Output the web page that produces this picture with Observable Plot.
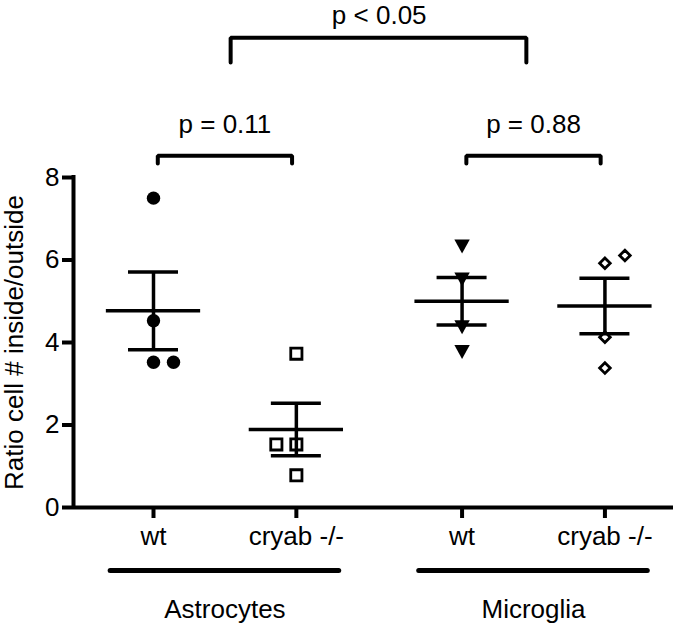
<!DOCTYPE html>
<html><head><meta charset="utf-8">
<script src="https://cdn.jsdelivr.net/npm/d3@7"></script>
<script src="https://cdn.jsdelivr.net/npm/@observablehq/plot@0.6"></script>
<style>
html,body{margin:0;padding:0;background:#fff;}
</style>
</head><body><div id="chart"></div>
<script>
// ---------------- data ----------------
const groups = ["Astrocytes", "Microglia"];
const genotypes = ["wt", "cryab -/-"];
const astrocytesWt = [7.5, 4.53, 3.52, 3.52];
const astrocytesKo = [3.73, 1.53, 1.53, 0.78];
const microgliaWt = [6.33, 5.53, 4.37, 3.77];
const microgliaKo = [5.92, 6.11, 4.13, 3.38];
const yTicks = [0, 2, 4, 6, 8];
const yLabel = "Ratio cell # inside/outside";
const withinLabels = ["p = 0.11", "p = 0.88"];   // wt vs cryab -/- within each group
const betweenLabel = "p < 0.05";                   // Astrocytes vs Microglia

// ---------------- layout / style ----------------
const groupStep = 2.16;           // distance between groups, in column units
const xDomain = [-0.56, 3.64];
const spread = 0.14;              // horizontal offset for overlapping symbols
const meanHalf = 0.33, capHalf = 0.175;
const font = "'Liberation Sans', Arial, Helvetica, sans-serif";

const colX = (g, t) => groups.indexOf(g) * groupStep + genotypes.indexOf(t);
const groupMid = g => groups.indexOf(g) * groupStep + 0.5;

function sym(draw) { return {draw(ctx, size) { draw(ctx, Math.sqrt(size / Math.PI)); }}; }
const symCircle = sym((c, r) => { c.moveTo(r, 0); c.arc(0, 0, r, 0, 2 * Math.PI); });
const symSquare = sym((c, r) => { c.rect(-r, -r, 2 * r, 2 * r); });
const symTriDown = sym((c, r) => { c.moveTo(-1.1 * r, -r); c.lineTo(1.1 * r, -r); c.lineTo(0, r); c.closePath(); });
const symDiamond = sym((c, r) => { c.moveTo(0, -r); c.lineTo(r, 0); c.lineTo(0, r); c.lineTo(-r, 0); c.closePath(); });

const columns = [
  {group: "Astrocytes", genotype: "wt", values: astrocytesWt, symbol: symCircle, r: 6.7, filled: true, side: 1},
  {group: "Astrocytes", genotype: "cryab -/-", values: astrocytesKo, symbol: symSquare, r: 5.6, filled: false, side: -1},
  {group: "Microglia", genotype: "wt", values: microgliaWt, symbol: symTriDown, r: 7, filled: true, side: 1},
  {group: "Microglia", genotype: "cryab -/-", values: microgliaKo, symbol: symDiamond, r: 5.3, filled: false, side: 1}
];
columns.forEach(c => {
  c.x = colX(c.group, c.genotype);
  c.mean = d3.mean(c.values);
  c.sem = d3.deviation(c.values) / Math.sqrt(c.values.length);
  // spread symbols that would overlap
  const placed = [];
  c.points = c.values.map(v => {
    const clash = placed.some(p => p.slot === 0 && Math.abs(p.v - v) < 0.3);
    const slot = clash ? c.side : 0;
    placed.push({v, slot});
    return {value: v, x: c.x + slot * spread};
  });
});

const tickLabel = new Map(columns.map(c => [c.x, c.genotype]));

// brackets
const yBr = {low: 8.34, high: 8.53, topLow: 10.79, topHigh: 11.39, text: 9.27, topText: 11.93};
const brackets = [];
groups.forEach((g, i) => {
  const x1 = colX(g, genotypes[0]) + 0.03, x2 = colX(g, genotypes[1]) - 0.03;
  [[x1, yBr.low], [x1, yBr.high], [x2, yBr.high], [x2, yBr.low]].forEach(([x, y]) => brackets.push({id: g, x, y}));
});
{
  const x1 = groupMid(groups[0]) + 0.04, x2 = groupMid(groups[1]) - 0.05;
  [[x1, yBr.topLow], [x1, yBr.topHigh], [x2, yBr.topHigh], [x2, yBr.topLow]].forEach(([x, y]) => brackets.push({id: "between", x, y}));
}
const pTexts = groups.map((g, i) => ({x: groupMid(g), y: yBr.text, text: withinLabels[i]}));
pTexts.push({x: (groupMid(groups[0]) + groupMid(groups[1])) / 2, y: yBr.topText, text: betweenLabel});

const groupLineY = -1.527, groupTextY = -2.465;

const chart = Plot.plot({
  width: 677, height: 625,
  marginLeft: 73, marginRight: 4, marginTop: 177, marginBottom: 118,
  x: {domain: xDomain},
  y: {domain: [0, 8]},
  style: {fontFamily: font, fontSize: "26px", color: "#000", background: "#fff", overflow: "visible"},
  marks: [
    // axes
    Plot.axisY(yTicks, {tickSize: 11, tickPadding: 3, fontSize: 26, strokeWidth: 4, label: null, tickFormat: d => String(d)}),
    Plot.axisX(columns.map(c => c.x), {tickSize: 11, tickPadding: 8, fontSize: 26, strokeWidth: 4, label: null, tickFormat: x => tickLabel.get(x)}),
    Plot.ruleX([xDomain[0]], {y1: 0, y2: 8, strokeWidth: 4, strokeLinecap: "square"}),
    Plot.ruleY([0], {x1: xDomain[0], x2: xDomain[1], strokeWidth: 4}),
    Plot.text([yLabel], {text: d => d, frameAnchor: "left", textAnchor: "middle", rotate: -90, dx: -59, fontSize: 26, fill: "#000"}),
    // mean and SEM
    Plot.ruleY(columns, {y: "mean", x1: c => c.x - meanHalf, x2: c => c.x + meanHalf, strokeWidth: 3.5}),
    Plot.ruleX(columns, {x: "x", y1: c => c.mean - c.sem, y2: c => c.mean + c.sem, strokeWidth: 3.5}),
    Plot.ruleY(columns, {y: c => c.mean + c.sem, x1: c => c.x - capHalf, x2: c => c.x + capHalf, strokeWidth: 3.5}),
    Plot.ruleY(columns, {y: c => c.mean - c.sem, x1: c => c.x - capHalf, x2: c => c.x + capHalf, strokeWidth: 3.5}),
    // points
    ...columns.map(c => Plot.dot(c.points, {
      x: "x", y: "value", r: c.r, symbol: c.symbol,
      fill: c.filled ? "#000" : "none", stroke: "#000", strokeWidth: c.filled ? 0 : 2.8
    })),
    // brackets and p values
    Plot.line(brackets, {x: "x", y: "y", z: "id", stroke: "#000", strokeWidth: 4, strokeLinejoin: "miter"}),
    Plot.text(pTexts, {x: "x", y: "y", text: "text", fontSize: 26, fill: "#000"}),
    // group lines and labels
    Plot.ruleY(groups, {y: () => groupLineY, x1: g => groupMid(g) - 0.8, x2: g => groupMid(g) + 0.8, strokeWidth: 5, strokeLinecap: "round"}),
    Plot.text(groups, {x: g => groupMid(g), y: () => groupTextY, text: g => g, fontSize: 26, fill: "#000"})
  ]
});
document.getElementById("chart").appendChild(chart);
</script>
</body></html>
